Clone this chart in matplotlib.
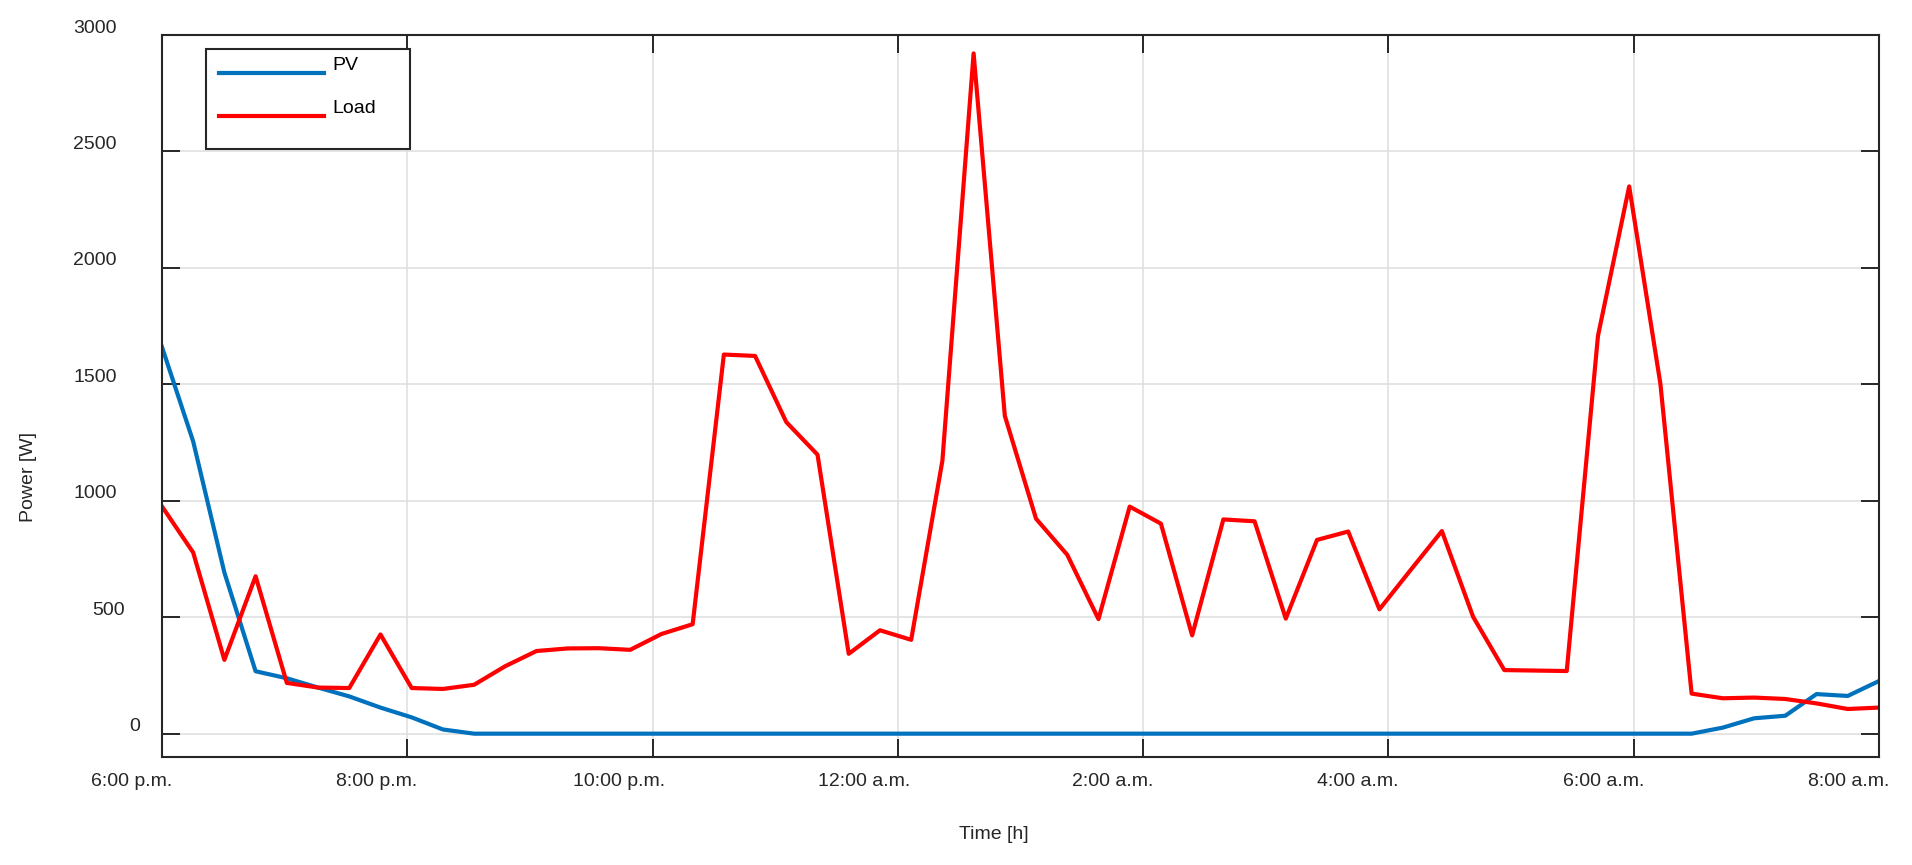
import matplotlib
matplotlib.use("Agg")
import matplotlib.pyplot as plt
import matplotlib.transforms as mtransforms
import numpy as np

plt.rcParams["font.family"] = ["Liberation Sans", "DejaVu Sans"]

# 56 samples from 6 p.m. to 8 a.m. (hours after 6 p.m.)
hours = np.linspace(0, 14, 56)

pv = [1661, 1255, 692, 268, 238, 198, 160, 112, 70, 18,
      0, 0, 0, 0, 0, 0, 0, 0, 0, 0,
      0, 0, 0, 0, 0, 0, 0, 0, 0, 0,
      0, 0, 0, 0, 0, 0, 0, 0, 0, 0,
      0, 0, 0, 0, 0, 0, 0, 0, 0, 0,
      26, 66, 77, 170, 162, 226]

load = [976, 778, 317, 676, 218, 198, 196, 426, 196, 192,
        210, 290, 355, 366, 367, 360, 428, 470, 1628, 1622,
        1338, 1198, 343, 444, 403, 1172, 2921, 1365, 923, 768,
        492, 975, 902, 422, 920, 912, 494, 832, 868, 534,
        703, 870, 502, 273, 271, 269, 1708, 2350, 1502, 172,
        152, 155, 149, 130, 106, 112]

tick_hours = [0, 2, 4, 6, 8, 10, 12, 14]
tick_labels = ["6:00 p.m.", "8:00 p.m.", "10:00 p.m.", "12:00 a.m.",
               "2:00 a.m.", "4:00 a.m.", "6:00 a.m.", "8:00 a.m."]
power_ticks = [0, 500, 1000, 1500, 2000, 2500, 3000]

dark = "#262626"

fig = plt.figure(figsize=(19.12, 8.65), dpi=100)
ax = fig.add_axes([0.0847, 0.1249, 0.8980, 0.8346])

ax.plot(hours, pv, color="#0072bd", linewidth=3.0, label="PV")
ax.plot(hours, load, color="#ff0000", linewidth=3.0, label="Load")

ax.set_xlim(0, 14)
ax.set_ylim(-100, 3000)
ax.set_xticks(tick_hours, tick_labels)
ax.set_yticks(power_ticks)
ax.grid(True, color="#dedede", linewidth=1.1)

ax.tick_params(which="both", direction="in", length=13, width=1.4,
               top=True, right=True, colors=dark, labelsize=14)
ax.tick_params(axis="x", pad=11.5)
ax.tick_params(axis="y", pad=10)
for sp in ax.spines.values():
    sp.set_color(dark)
    sp.set_linewidth(1.5)

ax.set_xlabel("Time [h]", fontsize=14, color=dark)
ax.xaxis.set_label_coords(0.4846, -0.0955)
ax.set_ylabel("Power [W]", fontsize=14, color=dark)
ax.yaxis.set_label_coords(-0.0728, 0.388)

# labels in the original sit a bit left / above their ticks
for lbl in ax.get_xticklabels():
    dx = -3.35 * len(lbl.get_text()) / 100
    lbl.set_transform(lbl.get_transform() +
                      mtransforms.ScaledTranslation(dx, 0, fig.dpi_scale_trans))
for lbl in ax.get_yticklabels():
    dx = -7.8 * len(lbl.get_text()) / 100
    lbl.set_transform(lbl.get_transform() +
                      mtransforms.ScaledTranslation(dx, 0.09, fig.dpi_scale_trans))

leg = ax.legend(loc="upper left", bbox_to_anchor=(0.0256, 0.849, 0.1188, 0.1316),
                mode="expand", borderaxespad=0, fontsize=14, frameon=True,
                fancybox=False, edgecolor=dark, framealpha=1,
                handlelength=5.4, handleheight=2.1, handletextpad=0.45,
                labelspacing=0.61, borderpad=0.65)
leg.get_frame().set_linewidth(1.5)
for t in leg.get_texts():
    t.set_transform(t.get_transform() +
                    mtransforms.ScaledTranslation(0, 0.135, fig.dpi_scale_trans))

fig.savefig("out.png", dpi=100)
